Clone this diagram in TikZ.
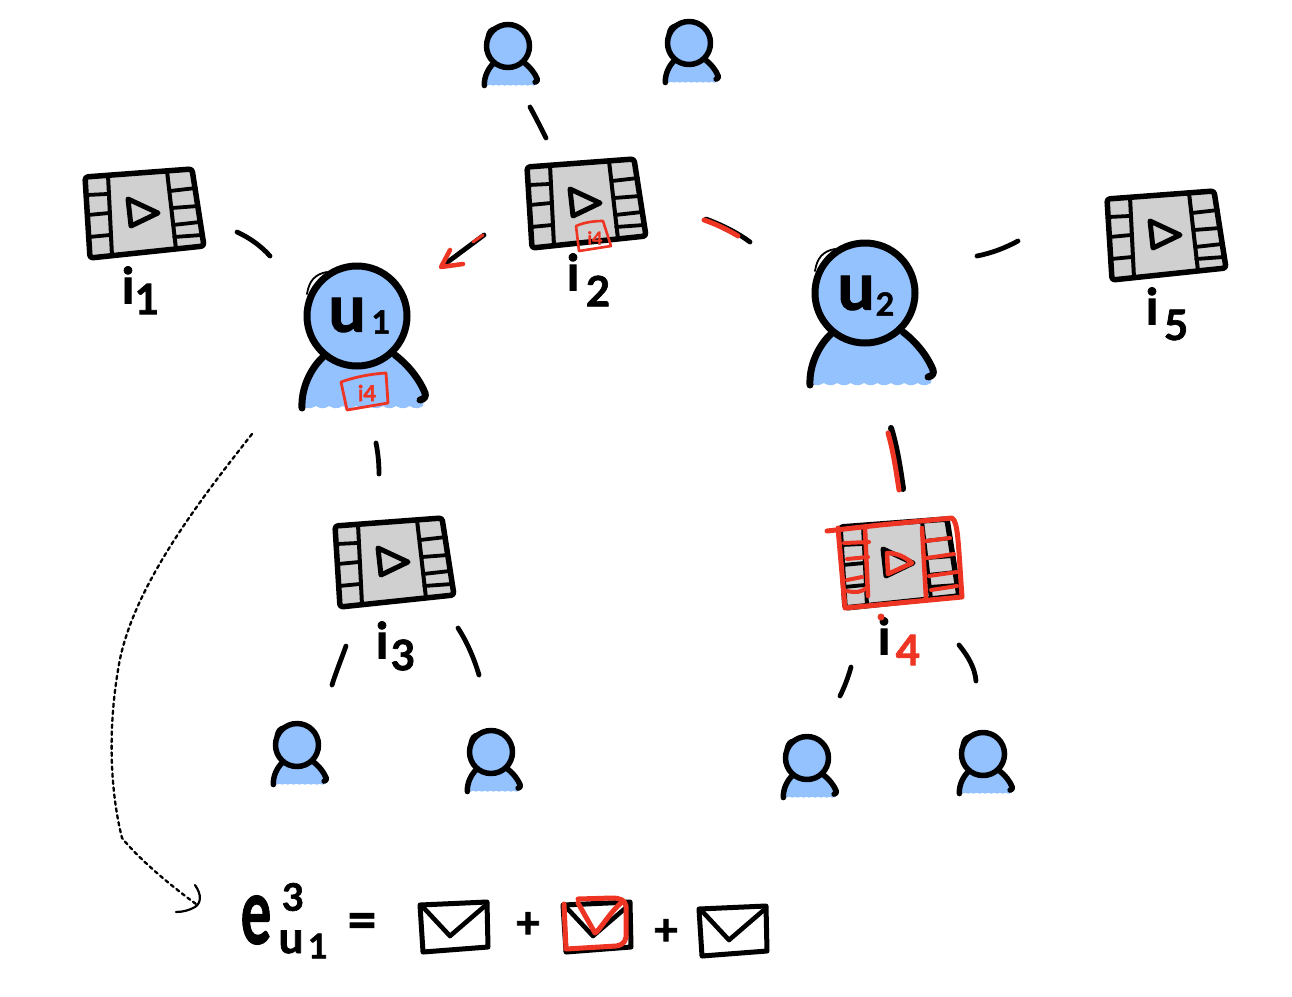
\documentclass[tikz,border=0pt]{standalone}
\usepackage{fontspec}
\setmainfont{Lato}[BoldFeatures={FakeBold=1.6}]
\definecolor{bodyblue}{HTML}{93C2FF}
\definecolor{hotred}{HTML}{EE3524}
\definecolor{filmgray}{HTML}{D0D0D0}
\tikzset{
  ink/.style={line cap=round,line join=round},
  stroke/.style={ink,line width=4.8pt,black},
  redstroke/.style={ink,line width=5pt,hotred},
  lab/.style={inner sep=0pt,font=\bfseries\fontsize{50}{50}\selectfont},
  sublab/.style={inner sep=0pt,font=\bfseries\fontsize{42}{42}\selectfont},
  pics/person/.style={code={
    \fill[bodyblue] (-55,92) .. controls (-53,70) and (-45,52) .. (-34,41) -- (38,39)
      .. controls (48,50) and (60,62) .. (68,77) -- (66,90)
      .. controls +(-5,3) and +(5,3) .. ++(-13.4,0)
      .. controls +(-5,3) and +(5,3) .. ++(-13.4,0)
      .. controls +(-5,3) and +(5,3) .. ++(-13.4,0)
      .. controls +(-5,3) and +(5,3) .. ++(-13.4,0)
      .. controls +(-5,3) and +(5,3) .. ++(-13.4,0)
      .. controls +(-5,3) and +(5,3) .. ++(-13.4,0)
      .. controls +(-5,3) and +(5,3) .. ++(-13.4,0)
      .. controls +(-5,3) and +(5,3) .. ++(-13.4,0)
      .. controls +(-5,3) and +(5,3) .. ++(-13.4,0) -- cycle;
    \draw[ink] (-55,92) .. controls (-56,72) and (-46,52) .. (-34,41);
    \draw[ink] (38,39) .. controls (50,48) and (62,62) .. (68,77) .. controls (69,80) and (68,83) .. (63,84);
    \draw[ink,fill=bodyblue] (0,0) circle (50);
    \draw[ink,line width=1.8pt] (-50,-22) .. controls (-48,-35) and (-42,-42) .. (-30,-44);
  }},
  pics/movie/.style={code={
    \draw[ink,line width=5.5pt,fill=filmgray,rounded corners=3pt]
      (-60,-36) -- (47,-44) -- (59,33) -- (-55,45) -- cycle;
    \draw[ink,line width=4pt] (-37,-38) -- (-33,43) (22,-42) -- (31,36);
    \draw[ink,line width=3.8pt] (-58,-18) -- (-38,-19) (-57,2) -- (-36,0) (-56,24) -- (-35,22);
    \draw[ink,line width=3.8pt] (25,-22) -- (51,-25) (27,-5) -- (53,-7) (28,12) -- (55,9) (29,24) -- (57,22);
    \draw[ink,line width=5pt] (-17,-14) -- (13,0) -- (-14,13) -- cycle;
  }},
  pics/envelope/.style={code={
    \draw[ink,line width=5pt] (0,2) -- (67,-1) -- (68,44) -- (3,49) -- cycle;
    \draw[ink,line width=4.6pt] (2,3) -- (30,33) -- (66,2);
  }},
}
\begin{document}
\begin{tikzpicture}[x=1pt,y=-1pt]
\useasboundingbox (0,0) rectangle (1292,996);
% movies
\pic at (145,213) {movie};
\pic at (587,203) {movie};
\pic at (395,562) {movie};
\pic at (900,563) {movie};
\pic at (1167,235) {movie};
% people
\pic[line width=7pt] at (357,316) {person};
\pic[line width=7pt] at (865,293) {person};
\pic[line width=5.5pt,scale=.43] at (508,46) {person};
\pic[line width=5.5pt,scale=.43] at (689,43) {person};
\pic[line width=5.5pt,scale=.43] at (297,745) {person};
\pic[line width=5.5pt,scale=.43] at (491,752) {person};
\pic[line width=5.5pt,scale=.43] at (807,758) {person};
\pic[line width=5.5pt,scale=.43] at (983,754) {person};
% head labels
\node[inner sep=0pt,font=\bfseries\fontsize{66}{66}\selectfont] (lu1) at (347,315) {u};
\node[inner sep=0pt,font=\bfseries\fontsize{32}{32}\selectfont] (lu1s) at (381,322) {1};
\node[inner sep=0pt,font=\bfseries\fontsize{66}{66}\selectfont] (lu2) at (856,293) {u};
\node[inner sep=0pt,font=\bfseries\fontsize{32}{32}\selectfont] (lu2s) at (885,304) {2};
% item labels
\node[lab] (i1) at (128,285) {i};
\node[sublab] (n1) at (147,299) {1};
\node[lab] (i2) at (573,272) {i};
\node[sublab] (n2) at (598,291) {2};
\node[lab] (i3) at (382,640) {i};
\node[sublab] (n3) at (403,655) {3};
\node[lab] (i4) at (884,636) {i};
\node[sublab,text=hotred] (n4) at (908,650) {4};
\fill[hotred] (881,617) circle (3.5);
\node[lab] (i5) at (1152,306) {i};
\node[sublab] (n5) at (1176,325) {5};
% connectors
\draw[stroke] (530,107) .. controls (536,118) and (541,128) .. (546,138);
\draw[stroke] (237,232) .. controls (250,238) and (261,246) .. (270,256);
\draw[stroke] (977,256) .. controls (992,253) and (1005,248) .. (1018,241);
\draw[stroke] (376,443) .. controls (378,453) and (379,463) .. (379,474);
\draw[stroke] (346,646) .. controls (341,660) and (336,672) .. (332,685);
\draw[stroke] (458,628) .. controls (467,642) and (474,658) .. (479,675);
\draw[stroke] (851,667) .. controls (848,678) and (844,688) .. (840,696);
\draw[stroke] (959,645) .. controls (968,656) and (975,668) .. (976,681);
% highlighted connectors
\draw[stroke] (484,235) -- (445,264);
\draw[redstroke,line width=3pt] (483,235) -- (473,242);
\draw[redstroke,line width=4.5pt] (450,250) -- (441,267) -- (463,264);
\draw[stroke] (706,219) .. controls (722,225) and (738,233) .. (750,242);
\draw[redstroke] (704,220) .. controls (716,224) and (728,230) .. (738,236);
\draw[stroke,line width=6pt] (891,428) .. controls (897,448) and (900,468) .. (903,489);
\draw[redstroke] (888,433) .. controls (893,450) and (896,470) .. (899,490);
% red overlay on i4
\draw[redstroke] (827,531) -- (880,525) -- (952,518) .. controls (958,522) and (958,540) .. (962,597)
  -- (845,608) -- (838,528);
\draw[redstroke,line width=4.5pt] (865,528) -- (868,596) (922,528) -- (926,598);
\draw[redstroke,line width=4pt] (844,543) -- (869,542) (847,559) -- (868,557)
  (847,580) -- (862,577) (847,591) .. controls (856,593) and (862,592) .. (866,588)
  (926,541) -- (950,538) (927,558) -- (954,554) (929,576) -- (957,572) (931,590) -- (957,586);
\draw[redstroke,line width=4.5pt] (887,553) -- (888,574) -- (912,563) .. controls (905,557) and (897,553) .. (887,553) -- cycle;
% mini item badges
\draw[hotred,ink,line width=2.6pt] (576,226) .. controls (585,222) and (595,221) .. (603,221)
  -- (611,246) -- (579,251) -- cycle;
\node[inner sep=0pt,text=hotred,font=\bfseries\fontsize{18}{18}\selectfont] (b2) at (595,238) {i4};
\draw[hotred,ink,line width=2.8pt] (341,382) .. controls (355,377) and (370,374) .. (386,373)
  -- (388,403) -- (347,410) -- cycle;
\node[inner sep=0pt,text=hotred,font=\bfseries\fontsize{22}{22}\selectfont] (b1) at (367,393) {i4};
% dashed arrow
\coordinate (dstart) at (252,434);
\coordinate (dend) at (196,904);
\draw[ink,line width=2.3pt,dash pattern=on 3.5pt off 3.5pt] (dstart)
  .. controls (200,500) and (130,590) .. (118,670)
  .. controls (108,730) and (110,790) .. (122,838)
  .. controls (140,860) and (170,885) .. (dend);
\draw[ink,line width=2.2pt] (195,885) .. controls (202,895) and (201,903) .. (195,907) .. controls (190,910) and (183,912) .. (176,912);
% equation
\node[inner sep=0pt,xscale=.62,transform shape,font=\bfseries\fontsize{92}{92}\selectfont] (eq) at (256,920) {e};
\node[inner sep=0pt,font=\bfseries\fontsize{38}{38}\selectfont] (eqs) at (293,897) {3};
\node[inner sep=0pt,font=\bfseries\fontsize{44}{44}\selectfont] (equ) at (291,942) {u};
\node[inner sep=0pt,font=\bfseries\fontsize{34}{34}\selectfont] (eq1) at (318,946) {1};
\node[inner sep=0pt,font=\bfseries\fontsize{54}{54}\selectfont] (eqe) at (362,926) {=};
\pic at (420,903) {envelope};
\pic at (563,903) {envelope};
\pic at (699,907) {envelope};
\node[inner sep=0pt,font=\bfseries\fontsize{44}{44}\selectfont] (p1) at (528,925) {+};
\node[inner sep=0pt,font=\bfseries\fontsize{44}{44}\selectfont] (p2) at (666,932) {+};
\draw[redstroke] (564,904) -- (566,949) -- (616,946) .. controls (624,945) and (627,940) .. (626,932) -- (626,906) .. controls (625,900) and (620,898) .. (612,898) -- (578,899);
\draw[redstroke] (578,903) -- (595,933) .. controls (600,930) and (610,912) .. (622,902);
\end{tikzpicture}
\end{document}
